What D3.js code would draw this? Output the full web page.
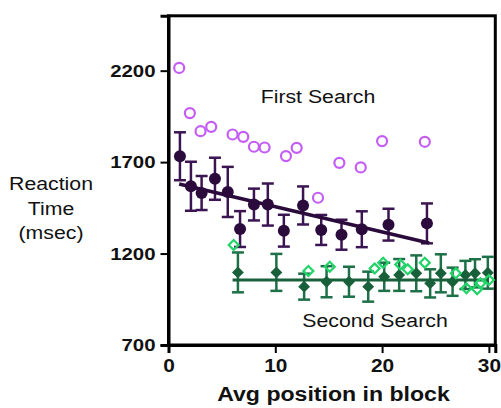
<!DOCTYPE html>
<html lang="en">
<head>
<meta charset="UTF-8">
<title>Reaction Time</title>
<script src="https://cdn.jsdelivr.net/npm/d3@7"></script>
<style>
  body { margin: 0; background: #fff; }
  svg { display: block; font-family: "Liberation Sans", Arial, sans-serif; }
</style>
</head>
<body>
<script>
// individual first search points (open circles)
const firstX = [1, 2, 3, 4, 6, 7, 8, 9, 11, 12, 14, 16, 18, 20, 24]
const firstRT = [2215, 1968, 1869, 1893, 1851, 1838, 1784, 1780, 1733, 1778, 1505, 1696, 1671, 1815, 1811]

// first search means with error
const firstMeanX = [1.07, 2.1, 3.1, 4.35, 5.55, 6.7, 8.0, 9.3, 10.8, 12.6, 14.3, 16.2, 18.1, 20.6, 24.2]
const firstMean = [1732, 1568, 1531, 1609, 1537, 1334, 1468, 1468, 1325, 1463, 1329, 1303, 1333, 1358, 1365]
const firstErr = [131, 134, 93, 115, 137, 98, 87, 115, 87, 104, 82, 82, 98, 87, 109]

// second search individual points (open diamonds)
const secondX = [6.1, 13.1, 15.1, 19.3, 20.1, 21.7, 22.4, 24.0, 26.9, 27.9, 28.9, 29.2, 30.0]
const secondRT = [1247, 1105, 1128, 1118, 1150, 1140, 1114, 1150, 1092, 1010, 1005, 1037, 1055]

// second search means with error
const secondMeanX = [6.5, 10.1, 12.7, 14.8, 16.9, 18.7, 20.2, 21.6, 23.2, 24.5, 25.5, 26.6, 27.8, 28.7, 29.9]
const secondMean = [1097, 1097, 1019, 1046, 1046, 1019, 1073, 1083, 1092, 1037, 1092, 1046, 1083, 1092, 1095]
const secondErr = [109, 101, 71, 85, 82, 82, 77, 87, 98, 77, 104, 77, 77, 77, 87]

// fitted lines
const trend1X = [1.0, 24.4]
const trend1Y = [1580, 1258]
const trend2X = [6.0, 30.0]
const trend2Y = [1055, 1055]

const xTicks = [0, 10, 20, 30]
const yTicks = [700, 1200, 1700, 2200]

const width = 501
const height = 408

const svg = d3.select('body').append('svg')
  .attr('width', width)
  .attr('height', height)

const x = d3.scaleLinear().domain([0, 30.6]).range([168.5, 495.3])
const y = d3.scaleLinear().domain([700, 2500]).range([345, 15.8])

const purple = '#2a0b3c'
const purpleBar = '#3a1552'
const violet = '#c45cf6'
const green = '#17603a'
const greenBar = '#1d7047'
const lime = '#22d468'

// frame
svg.append('rect')
  .attr('x', x(0))
  .attr('y', y(2500))
  .attr('width', x(30.6) - x(0))
  .attr('height', y(700) - y(2500))
  .attr('fill', 'none')
  .attr('stroke', '#000')
  .attr('stroke-width', 3)

// axes
const xAxis = d3.axisBottom(x).tickValues(xTicks).tickSize(8).tickPadding(6).tickFormat(d3.format('d'))
const yAxis = d3.axisLeft(y).tickValues(yTicks).tickSize(8).tickPadding(5).tickFormat(d3.format('d'))

const gx = svg.append('g')
  .attr('transform', `translate(0, ${y(700)})`)
  .call(xAxis)
const gy = svg.append('g')
  .attr('transform', `translate(${x(0)}, 0)`)
  .call(yAxis)

for (const g of [gx, gy]) {
  g.select('.domain').attr('stroke', '#000').attr('stroke-width', 3)
  g.selectAll('.tick line').attr('stroke', '#000').attr('stroke-width', 2)
  g.selectAll('.tick text')
    .attr('fill', '#111')
    .attr('font-size', 17)
    .attr('font-weight', 'bold')
    .attr('font-family', '"Liberation Sans", Arial, sans-serif')
}
gy.selectAll('.tick text')
  .attr('x', -13 / 1.2)
  .attr('transform', 'scale(1.2,1)')
gx.selectAll('.tick text')
  .attr('font-size', 18.5)
  .attr('transform', 'scale(1.13,1)')

// helper for horizontally stretched text
function label(txt, cx, cy, size, sx, weight) {
  svg.append('text')
    .attr('transform', `translate(${cx},${cy}) scale(${sx},1)`)
    .attr('text-anchor', 'middle')
    .attr('font-size', size)
    .attr('font-weight', weight || 'normal')
    .attr('fill', '#111')
    .text(txt)
}

label('Avg position in block', 333.5, 401, 21, 1.1, 'bold')
label('Reaction', 51, 190, 18.5, 1.15)
label('Time', 51, 215, 18.5, 1.15)
label('(msec)', 51, 239, 18.5, 1.15)
label('First Search', 318, 103, 19, 1.12)
label('Second Search', 375, 327, 19, 1.12)

// error bar drawing
function errorBars(xs, means, errs, color) {
  const g = svg.append('g').attr('stroke', color).attr('stroke-width', 2.5).attr('fill', 'none')
  xs.forEach((xv, i) => {
    const top = y(means[i] + errs[i])
    const bot = y(means[i] - errs[i])
    const cx = x(xv)
    g.append('line').attr('x1', cx).attr('x2', cx).attr('y1', top).attr('y2', bot)
    g.append('line').attr('x1', cx - 6).attr('x2', cx + 6).attr('y1', top).attr('y2', top)
    g.append('line').attr('x1', cx - 6).attr('x2', cx + 6).attr('y1', bot).attr('y2', bot)
  })
}

const line = d3.line().x(d => x(d[0])).y(d => y(d[1]))

// first search
errorBars(firstMeanX, firstMean, firstErr, purpleBar)

svg.append('path')
  .datum(d3.zip(trend1X, trend1Y))
  .attr('d', line)
  .attr('fill', 'none')
  .attr('stroke', purple)
  .attr('stroke-width', 3.5)

svg.append('g').selectAll('circle')
  .data(d3.zip(firstMeanX, firstMean))
  .enter()
  .append('circle')
  .attr('cx', d => x(d[0]))
  .attr('cy', d => y(d[1]))
  .attr('r', 6)
  .attr('fill', purple)

svg.append('g').selectAll('circle')
  .data(d3.zip(firstX, firstRT))
  .enter()
  .append('circle')
  .attr('cx', d => x(d[0]))
  .attr('cy', d => y(d[1]))
  .attr('r', 5)
  .attr('fill', 'none')
  .attr('stroke', violet)
  .attr('stroke-width', 2.2)

// second search
errorBars(secondMeanX, secondMean, secondErr, greenBar)

svg.append('path')
  .datum(d3.zip(trend2X, trend2Y))
  .attr('d', line)
  .attr('fill', 'none')
  .attr('stroke', green)
  .attr('stroke-width', 3)

svg.append('g').selectAll('rect')
  .data(d3.zip(secondMeanX, secondMean))
  .enter()
  .append('rect')
  .attr('x', -4.2)
  .attr('y', -4.2)
  .attr('width', 8.4)
  .attr('height', 8.4)
  .attr('transform', d => `translate(${x(d[0])},${y(d[1])}) rotate(45)`)
  .attr('fill', green)

svg.append('g').selectAll('rect')
  .data(d3.zip(secondX, secondRT))
  .enter()
  .append('rect')
  .attr('x', -3.5)
  .attr('y', -3.5)
  .attr('width', 7)
  .attr('height', 7)
  .attr('transform', d => `translate(${x(d[0])},${y(d[1])}) rotate(45)`)
  .attr('fill', 'none')
  .attr('stroke', lime)
  .attr('stroke-width', 2.2)
</script>
</body>
</html>
